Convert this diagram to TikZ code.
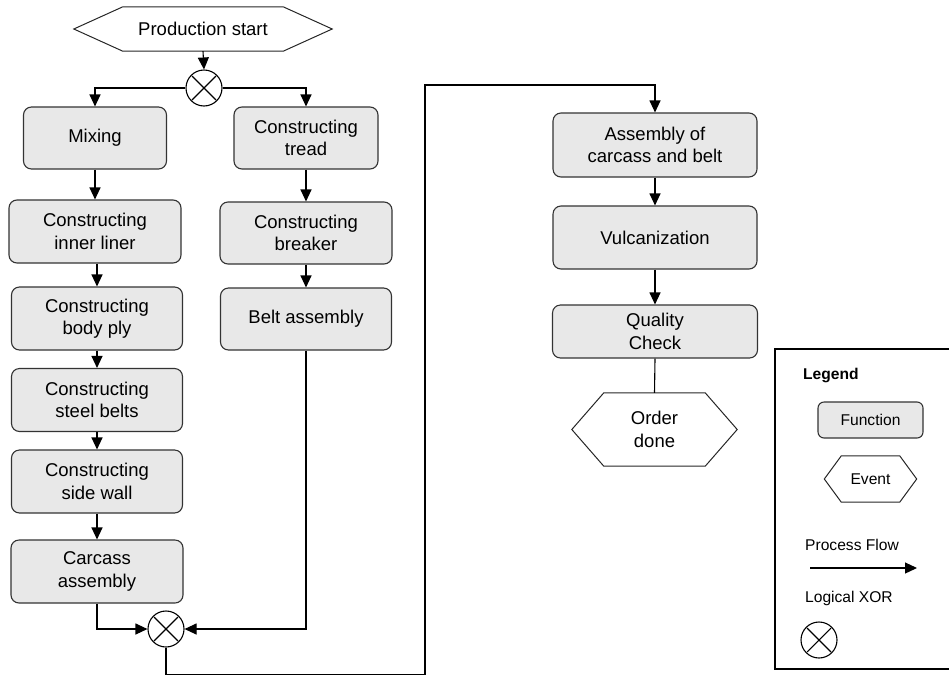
\documentclass[tikz,border=0pt]{standalone}
\usepackage{fontspec}
\setmainfont{Liberation Sans}
\usetikzlibrary{arrows.meta,calc}

\newcommand\diagfont{\fontsize{18.5}{22.5}\selectfont}
\newcommand\legfont{\fontsize{15.6}{19}\selectfont}

% hexagonal outline of an event node: #1 node name, #2 depth of the side points
\newcommand\eventoutline[2]{%
  \draw[evline] (#1.north west) -- (#1.north east) -- ($(#1.east)+(#2,0)$)
    -- (#1.south east) -- (#1.south west) -- ($(#1.west)+(-#2,0)$) -- cycle;}

\begin{document}
\begin{tikzpicture}[x=1pt,y=-1pt,
  flow/.style={draw=black, line width=1.1pt, -{Triangle[length=12pt,width=11pt]}},
  link/.style={draw=black, line width=1.1pt},
  evline/.style={draw=black!85, line width=1pt, line join=miter},
  func/.style={draw=black!80, line width=1.1pt, fill=black!9, rounded corners=8pt,
    align=center, inner sep=0pt, font=\diagfont},
  eventlbl/.style={inner sep=0pt, align=center, font=\diagfont},
  xorgate/.style={circle, draw=black, line width=1.1pt, fill=white,
    minimum size=36pt, inner sep=0pt,
    path picture={\draw[line width=1.1pt]
      ($(path picture bounding box.center)+(-12,-12)$) -- +(24,24)
      ($(path picture bounding box.center)+(-12,12)$) -- +(24,-24);}},
]
\useasboundingbox (0,0) rectangle (949,675);

% ---------- start event and first XOR split
\node[eventlbl, minimum width=160pt, minimum height=44pt] (start) at (203,29) {Production start};
\eventoutline{start}{49}
\node[xorgate] (xor1) at (204,88) {};

% ---------- left column
\node[func, minimum width=143pt, minimum height=62pt] (mix)     at (95,138)  {Mixing};
\node[func, minimum width=172pt, minimum height=63pt] (liner)   at (95,231.5) {Constructing\\inner liner};
\node[func, minimum width=171pt, minimum height=63pt] (body)    at (97,318.5) {Constructing\\body ply};
\node[func, minimum width=171pt, minimum height=63pt] (steel)   at (97,400)  {Constructing\\steel belts};
\node[func, minimum width=171pt, minimum height=63pt] (side)    at (97,481.5) {Constructing\\side wall};
\node[func, minimum width=172pt, minimum height=63pt] (carcass) at (97,571.5) {Carcass\\assembly};

% ---------- middle column
\node[func, minimum width=144pt, minimum height=62pt] (tread)   at (306,138) {Constructing\\tread};
\node[func, minimum width=172pt, minimum height=62pt] (breaker) at (306,233) {Constructing\\breaker};
\node[func, minimum width=171pt, minimum height=62pt] (belt)    at (306,319) {Belt assembly};

% ---------- joining XOR
\node[xorgate] (xor2) at (166,629) {};

% ---------- right column
\node[func, minimum width=204pt, minimum height=64pt] (asm)  at (655,145)   {Assembly of\\carcass and belt};
\node[func, minimum width=204pt, minimum height=63pt] (vulc) at (655,237.5) {Vulcanization};
\node[func, minimum width=205pt, minimum height=53pt] (qc)   at (655,331.5) {Quality\\Check};
\node[eventlbl, minimum width=101pt, minimum height=73pt] (done) at (654.5,429.5) {Order\\done};
\eventoutline{done}{32}

% ---------- connectors
\draw[flow] (start.south) -- (xor1.north);
\draw[flow] (xor1.west) -| (mix.north);
\draw[flow] (xor1.east) -| (tread.north);
\draw[flow] (mix.south) -- (mix.south |- liner.north);
\draw[flow] (liner.south -| body.north) -- (body.north);
\draw[flow] (body.south) -- (steel.north);
\draw[flow] (steel.south) -- (side.north);
\draw[flow] (side.south) -- (carcass.north);
\draw[flow] (tread.south) -- (breaker.north);
\draw[flow] (breaker.south) -- (belt.north);
\draw[flow] (carcass.south) |- (xor2.west);
\draw[flow] (belt.south) |- (xor2.east);
\coordinate (lowturn)  at (425,674.6);
\coordinate (highturn) at (425,85);
\draw[flow] (xor2.south) |- (lowturn) -- (highturn) -| (asm.north);
\draw[flow] (asm.south) -- (vulc.north);
\draw[flow] (vulc.south) -- (qc.north);
\draw[link] (qc.south) -- (done.north);

% ---------- legend
\node[draw=black, line width=1.8pt, minimum width=190pt, minimum height=320pt,
      inner sep=0pt, anchor=north west] (legendbox) at (774,348) {};
\node[anchor=west, inner sep=0pt, font=\legfont\bfseries] (legtitle) at (803,375) {Legend};
\node[func, font=\legfont, rounded corners=6pt, minimum width=105pt, minimum height=36pt] (legfunc) at (870.5,420) {Function};
\node[eventlbl, font=\legfont, minimum width=58pt, minimum height=46pt] (legevent) at (870.5,479) {Event};
\eventoutline{legevent}{17}
\node[anchor=west, inner sep=0pt, font=\legfont] (legflow) at (805,545) {Process Flow};
\coordinate (pfA) at (810,568);
\coordinate (pfB) at (917,568);
\draw[flow] (pfA) -- (pfB);
\node[anchor=west, inner sep=0pt, font=\legfont] (legxor) at (805,598) {Logical XOR};
\node[xorgate] (legxorsym) at (819,640) {};
\end{tikzpicture}
\end{document}
